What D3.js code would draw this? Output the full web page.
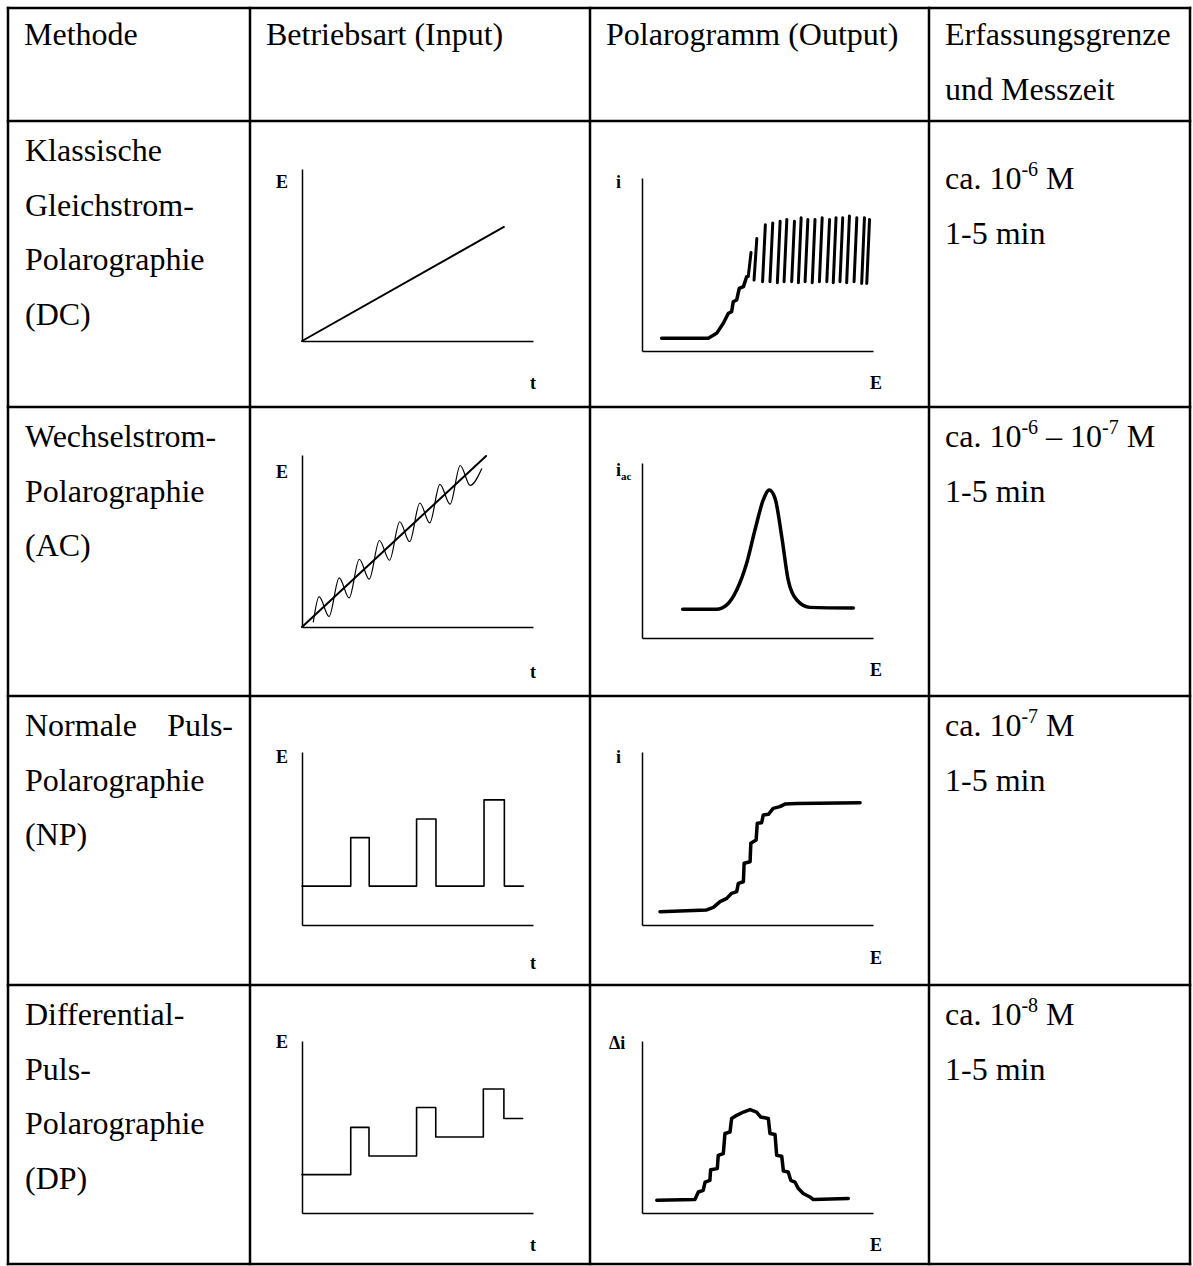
<!DOCTYPE html>
<html>
<head>
<meta charset="utf-8">
<script src="https://cdn.jsdelivr.net/npm/d3@7"></script>
<style>
body { margin: 0; background: white; }
text { font-family: "Liberation Serif", "Times New Roman", serif; white-space: pre; }
</style>
</head>
<body>
<div id="canvas"></div>
<script>
"use strict"

/* Table texts */
let headerLines = [["Methode"], ["Betriebsart (Input)"], ["Polarogramm (Output)"], ["Erfassungsgrenze", "und Messzeit"]];
let methodLines = [
    ["Klassische", "Gleichstrom-", "Polarographie", "(DC)"],
    ["Wechselstrom-", "Polarographie", "(AC)"],
    ["Normale|Puls-", "Polarographie", "(NP)"],
    ["Differential-", "Puls-", "Polarographie", "(DP)"]
];
let limitExponents = [["-6"], ["-6", "-7"], ["-7"], ["-8"]];
let measureTimes = ["1-5 min", "1-5 min", "1-5 min", "1-5 min"];
let inputAxisLabels = ["E", "t"];
let outputYLabels = [["i", ""], ["i", "ac"], ["i", ""], ["\u0394i", ""]];
let outputXLabel = "E";

/* Input signals: [t, E] on a 0-100 scale */
let dcInput = [[0, 0], [87.4, 66.3]];
let acRamp = [[0, 0], [79.7, 99.4]];
let acWave = [[4.9, 3.0], [7.4, 17.7], [11.7, 6.1], [16.1, 28.6], [20.4, 16.9], [24.8, 39.4], [29.1, 27.8],
    [33.5, 50.3], [37.9, 38.8], [42.3, 61.2], [46.6, 49.6], [51.0, 72.1], [55.3, 60.5], [59.7, 82.9],
    [64.1, 71.4], [68.5, 93.9], [72.8, 82.3], [77.8, 92.0]];
let npInput = [[0, 22.5], [21.1, 50.5], [29.1, 22.5], [49.6, 61.3], [58, 22.5], [78.8, 72.3], [87.6, 22.5], [95.8, 22.5]];
let dpInput = [[0, 22.3], [21.1, 49.8], [29, 33.1], [49.6, 61.3], [57.9, 44.2], [78.5, 72.1], [87.4, 54.9], [95.5, 54.9]];

/* Output polarograms: [E, i] on a 0-100 scale */
let dcRise = [[8.5, 7.3], [28.7, 7.3], [32.3, 10.2], [35.2, 16], [37.4, 21.8], [38.8, 22.7], [39.5, 28.5],
    [41, 29.5], [42.1, 36.2], [43.9, 37.2], [45.3, 42.9]];
let dcDropE = [46.0, 48.5, 52.2, 55.4, 58.6, 61.5, 64.8, 67.7, 70.6, 73.7, 76.8, 80.0, 82.8, 85.7, 88.6, 91.8, 95.1, 97.3];
let dcDropLow = [43, 41, 40, 40, 39.5, 40, 40, 39.5, 40, 39.5, 40, 40, 39.5, 40, 39.5, 40, 39, 39];
let dcDropHigh = [57, 65, 73, 74, 75, 76, 75, 77, 76, 76, 77, 76, 77, 77, 78, 77, 77, 76];
let acOutput = [[17.6, 16.4], [32.3, 16.4], [36.7, 18.9], [41, 27.4], [45.3, 42.7], [48.9, 61.7], [52.5, 78.9],
    [55.1, 84.6], [57.6, 79.8], [60.5, 57.9], [63.3, 33.1], [67, 21.7], [72.7, 17.5], [91.5, 17.1]];
let npOutput = [[7.8, 7.7], [28, 8.7], [30.9, 10.2], [33.8, 13.5], [36.7, 15.4], [38.8, 18.3], [41, 19.3],
    [41.7, 24.1], [43.9, 25], [44.2, 35.7], [46.8, 36.6], [47.1, 47.2], [49.4, 49.1], [49.9, 58.8],
    [51.8, 59.1], [52.5, 63.6], [54.7, 64], [56.8, 67.4], [59.7, 68.4], [61.9, 69.9], [67, 70.3], [94.4, 70.7]];
let dpOutput = [[6.4, 7.4], [22.9, 7.8], [24.4, 12.2], [26.5, 13.2], [27.3, 18], [29.4, 19], [29.7, 25.2],
    [32.6, 25.8], [33, 33.5], [35.2, 34.5], [35.9, 46.2], [38.1, 47.1], [38.8, 54.9], [41, 56.8], [43.9, 58.7],
    [46.8, 60.1], [49.6, 58.7], [51.4, 55.8], [54.7, 54.9], [55.4, 46.2], [57.6, 45.6], [58.3, 33.5],
    [60.5, 33], [61.2, 24.4], [63.3, 23.8], [64.4, 19], [66.2, 18], [67.7, 14.2], [69.8, 11.3], [72.7, 9.3],
    [74.2, 7.8], [89.3, 8.4]];

/* Layout of the table */
let colX = [8, 250, 590, 929, 1190];
let rowY = [8, 121, 407, 696, 985, 1264];
let lineGap = 54.5;

let drawing = d3.select("#canvas")
    .append("svg")
    .attr("width", 1193)
    .attr("height", 1266);

/* table text */
let texts = drawing.append("g").attr("font-size", 32).attr("fill", "black");

headerLines.forEach((lines, c) => {
    lines.forEach((s, k) => {
        texts.append("text")
            .attr("x", colX[c] + 16)
            .attr("y", 45 + k * 54.5)
            .text(s);
    });
});

methodLines.forEach((lines, r) => {
    lines.forEach((s, k) => {
        let yb = rowY[r + 1] + 40 + k * lineGap;
        let parts = s.split("|");
        texts.append("text")
            .attr("x", colX[0] + 17)
            .attr("y", yb)
            .text(parts[0]);
        if (parts.length > 1) {
            texts.append("text")
                .attr("x", colX[1] - 17)
                .attr("y", yb)
                .attr("text-anchor", "end")
                .text(parts[1]);
        }
    });
});

limitExponents.forEach((exps, r) => {
    let yb = rowY[r + 1] + (r === 0 ? 68 : 40);
    let t = texts.append("text")
        .attr("x", colX[3] + 16)
        .attr("y", yb);
    t.append("tspan").text("ca. 10");
    exps.forEach((e, i) => {
        t.append("tspan").attr("dy", -13).attr("font-size", 20).text(e);
        t.append("tspan").attr("dy", 13).text(i < exps.length - 1 ? " \u2013 10" : " M");
    });
    texts.append("text")
        .attr("x", colX[3] + 16)
        .attr("y", yb + 55)
        .text(measureTimes[r]);
});

/* grid lines */
let grid = drawing.append("g")
    .attr("stroke", "black")
    .attr("stroke-width", 2.5)
    .attr("stroke-linecap", "square");

colX.forEach(x => {
    grid.append("line")
        .attr("x1", x).attr("x2", x)
        .attr("y1", rowY[0]).attr("y2", rowY[rowY.length - 1]);
});
rowY.forEach(y => {
    grid.append("line")
        .attr("x1", colX[0]).attr("x2", colX[colX.length - 1])
        .attr("y1", y).attr("y2", y);
});

/* mini plots: origin and top of the y axis */
let inputBoxes = [
    { ox: 302, oy: 341, top: 169, labelY: 188, tY: 389 },
    { ox: 302, oy: 627, top: 455, labelY: 478, tY: 678 },
    { ox: 302, oy: 925, top: 752, labelY: 763, tY: 969 },
    { ox: 302, oy: 1213, top: 1041, labelY: 1048, tY: 1251 }
];
let outputBoxes = [
    { ox: 642, oy: 351, top: 178, labelY: 188, tY: 389 },
    { ox: 642, oy: 638, top: 463, labelY: 476, tY: 676 },
    { ox: 642, oy: 925, top: 752, labelY: 763, tY: 964 },
    { ox: 642, oy: 1213, top: 1041, labelY: 1049, tY: 1251 }
];
let plotWidth = 231;

function makePlot(box, yLabel, xLabel) {
    let g = drawing.append("g");
    let x = d3.scaleLinear().domain([0, 100]).range([box.ox, box.ox + plotWidth]);
    let y = d3.scaleLinear().domain([0, 100]).range([box.oy, box.top]);

    g.append("g")
        .attr("transform", "translate(0," + box.oy + ")")
        .call(d3.axisBottom(x).tickValues([]).tickSizeOuter(0));
    g.append("g")
        .attr("transform", "translate(" + box.ox + ",0)")
        .call(d3.axisLeft(y).tickValues([]).tickSizeOuter(0));
    g.selectAll(".domain")
        .attr("stroke", "black")
        .attr("stroke-width", 1.5);

    let yl = g.append("text")
        .attr("x", box.ox - 26)
        .attr("y", box.labelY)
        .attr("font-size", 18)
        .attr("font-weight", "bold")
        .text(yLabel[0]);
    if (yLabel[1]) {
        yl.append("tspan")
            .attr("dy", 4)
            .attr("font-size", 11)
            .text(yLabel[1]);
    }
    if (yLabel[0].length > 1) yl.attr("x", box.ox - 33);

    g.append("text")
        .attr("x", box.ox + 228)
        .attr("y", box.tY)
        .attr("font-size", 18)
        .attr("font-weight", "bold")
        .text(xLabel);

    return { g: g, x: x, y: y };
}

function drawCurve(plot, data, width, curve) {
    let line = d3.line()
        .x(d => plot.x(d[0]))
        .y(d => plot.y(d[1]))
        .curve(curve || d3.curveLinear);
    plot.g.append("path")
        .attr("d", line(data))
        .attr("fill", "none")
        .attr("stroke", "black")
        .attr("stroke-width", width)
        .attr("stroke-linejoin", "round")
        .attr("stroke-linecap", "round");
}

/* Input column */
let inDC = makePlot(inputBoxes[0], [inputAxisLabels[0], ""], inputAxisLabels[1]);
drawCurve(inDC, dcInput, 2);

let inAC = makePlot(inputBoxes[1], [inputAxisLabels[0], ""], inputAxisLabels[1]);
drawCurve(inAC, acRamp, 2);
drawCurve(inAC, acWave, 1.2, d3.curveMonotoneX);

let inNP = makePlot(inputBoxes[2], [inputAxisLabels[0], ""], inputAxisLabels[1]);
drawCurve(inNP, npInput, 1.6, d3.curveStepAfter);

let inDP = makePlot(inputBoxes[3], [inputAxisLabels[0], ""], inputAxisLabels[1]);
drawCurve(inDP, dpInput, 1.6, d3.curveStepAfter);

/* Output column */
let outDC = makePlot(outputBoxes[0], outputYLabels[0], outputXLabel);
drawCurve(outDC, dcRise, 3.5);
dcDropE.forEach((e, i) => {
    drawCurve(outDC, [[e, dcDropLow[i]], [e + 1.2, dcDropHigh[i]]], 3);
});

let outAC = makePlot(outputBoxes[1], outputYLabels[1], outputXLabel);
drawCurve(outAC, acOutput, 3.5, d3.curveMonotoneX);

let outNP = makePlot(outputBoxes[2], outputYLabels[2], outputXLabel);
drawCurve(outNP, npOutput, 3.5);

let outDP = makePlot(outputBoxes[3], outputYLabels[3], outputXLabel);
drawCurve(outDP, dpOutput, 3.5);
</script>
</body>
</html>
